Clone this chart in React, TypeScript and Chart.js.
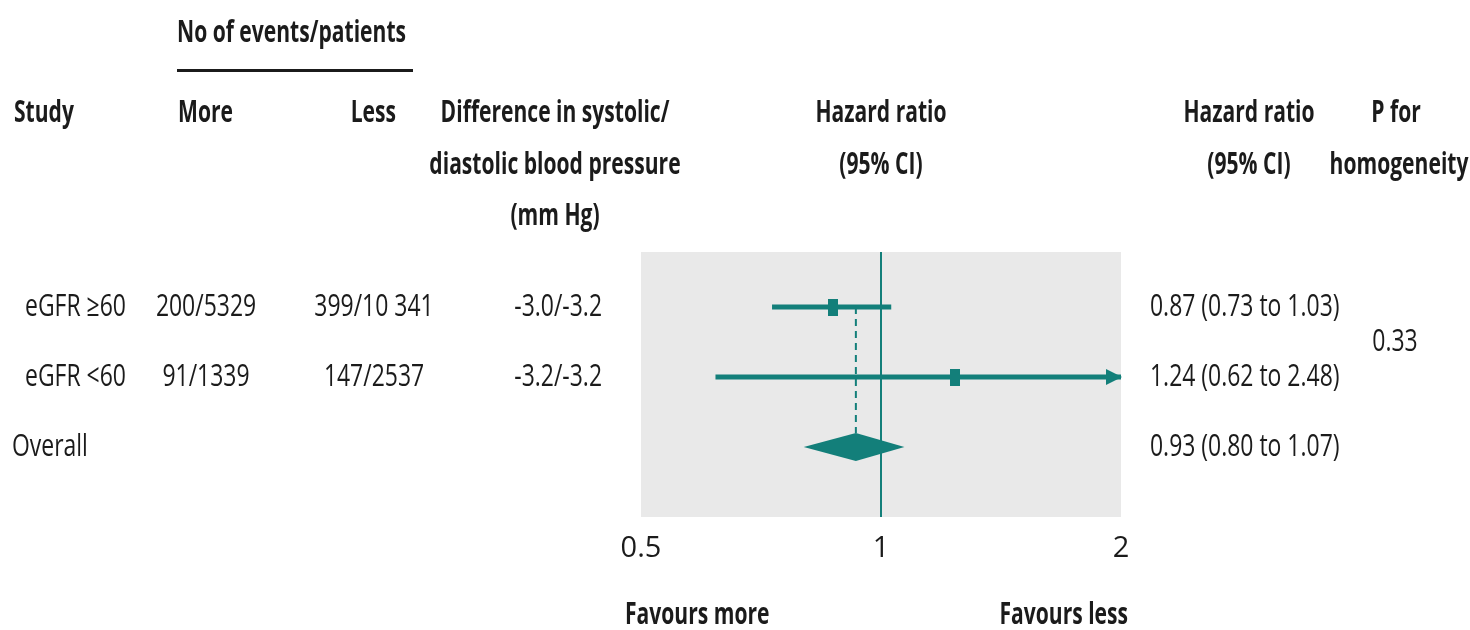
import React, { useEffect, useRef } from "react";
import { Chart, registerables } from "chart.js";

Chart.register(...registerables);

// Subgroups and their counts
const studies = ["eGFR ≥60", "eGFR <60"];
const eventsMore = ["200/5329", "91/1339"];
const eventsLess = ["399/10 341", "147/2537"];
const bpDifference = ["-3.0/-3.2", "-3.2/-3.2"];

// Hazard ratios with 95% confidence limits
const hazardRatio = [0.87, 1.24];
const ciLower = [0.73, 0.62];
const ciUpper = [1.03, 2.48];

// Pooled estimate
const overallLabel = "Overall";
const overallHr = 0.93;
const overallLower = 0.8;
const overallUpper = 1.07;

const pHomogeneity = "0.33";
const xTicks = [0.5, 1, 2];

const TEAL = "#137f7a";
const PANEL = "#e9e9e9";
const INK = "#1b1b1b";
const FONT = "'Open Sans', 'Noto Sans', sans-serif";
const REG_SCALE = 0.74;
const BOLD_SCALE = 0.68;

const fmt = (v: number) => v.toFixed(2);

function drawText(
  ctx: CanvasRenderingContext2D,
  text: string,
  x: number,
  y: number,
  align: "left" | "center" | "right",
  bold: boolean,
  size: number
) {
  const sx = bold ? BOLD_SCALE : REG_SCALE;
  ctx.save();
  ctx.font = `${bold ? "bold " : ""}${size}px ${FONT}`;
  ctx.fillStyle = INK;
  ctx.textAlign = "left";
  ctx.textBaseline = "alphabetic";
  const w = ctx.measureText(text).width * sx;
  const left = align === "left" ? x : align === "center" ? x - w / 2 : x - w;
  ctx.translate(left, y);
  ctx.scale(sx, 1);
  ctx.fillText(text, 0, 0);
  ctx.restore();
}

function markerImage(w: number, h: number) {
  const c = document.createElement("canvas");
  c.width = w;
  c.height = h;
  const g = c.getContext("2d")!;
  g.fillStyle = TEAL;
  g.fillRect(0, 0, w, h);
  return c;
}

const forestPlugin = {
  id: "forest",
  beforeDraw(chart: any) {
    const { ctx, chartArea: a } = chart;
    ctx.save();
    ctx.fillStyle = PANEL;
    ctx.fillRect(a.left, a.top, a.right - a.left, a.bottom - a.top);
    ctx.restore();
  },
  beforeDatasetsDraw(chart: any) {
    const { ctx, chartArea: a } = chart;
    const xs = chart.scales.x;
    const ys = chart.scales.y;
    ctx.save();
    // line of no effect
    ctx.strokeStyle = TEAL;
    ctx.lineWidth = 2;
    const x1 = Math.round(xs.getPixelForValue(1));
    ctx.beginPath();
    ctx.moveTo(x1, a.top);
    ctx.lineTo(x1, a.bottom);
    ctx.stroke();
    // dashed reference at the pooled estimate
    const xo = xs.getPixelForValue(overallHr);
    ctx.setLineDash([7, 5]);
    ctx.lineWidth = 2;
    ctx.beginPath();
    ctx.moveTo(xo, ys.getPixelForValue(1));
    ctx.lineTo(xo, ys.getPixelForValue(3) - 14);
    ctx.stroke();
    ctx.restore();
  },
  afterDatasetsDraw(chart: any) {
    const { ctx } = chart;
    const xs = chart.scales.x;
    const ys = chart.scales.y;
    ctx.save();
    ctx.fillStyle = TEAL;
    // arrowheads for limits beyond the axis
    ciUpper.forEach((u, i) => {
      if (u > xs.max) {
        const tip = xs.getPixelForValue(xs.max);
        const y = ys.getPixelForValue(i + 1);
        ctx.beginPath();
        ctx.moveTo(tip + 1, y);
        ctx.lineTo(tip - 15, y - 8);
        ctx.lineTo(tip - 15, y + 8);
        ctx.closePath();
        ctx.fill();
      }
    });
    // pooled diamond
    const yo = ys.getPixelForValue(3);
    ctx.beginPath();
    ctx.moveTo(xs.getPixelForValue(overallLower), yo);
    ctx.lineTo(xs.getPixelForValue(overallHr), yo - 14);
    ctx.lineTo(xs.getPixelForValue(overallUpper), yo);
    ctx.lineTo(xs.getPixelForValue(overallHr), yo + 14);
    ctx.closePath();
    ctx.fill();
    ctx.restore();
  },
  afterDraw(chart: any) {
    const { ctx } = chart;
    const ys = chart.scales.y;
    const xs = chart.scales.x;
    const H = 31;
    // column headings
    drawText(ctx, "No of events/patients", 177, 42, "left", true, H);
    ctx.save();
    ctx.fillStyle = INK;
    ctx.fillRect(177, 69, 236, 3);
    ctx.restore();
    drawText(ctx, "Study", 14, 122, "left", true, H);
    drawText(ctx, "More", 178, 122, "left", true, H);
    drawText(ctx, "Less", 396, 122, "right", true, H);
    drawText(ctx, "Difference in systolic/", 555, 122, "center", true, H);
    drawText(ctx, "diastolic blood pressure", 555, 174, "center", true, H);
    drawText(ctx, "(mm Hg)", 555, 225, "center", true, H);
    const hrCenter = xs.getPixelForValue(1);
    drawText(ctx, "Hazard ratio", hrCenter, 122, "center", true, H);
    drawText(ctx, "(95% CI)", hrCenter, 174, "center", true, H);
    drawText(ctx, "Hazard ratio", 1249, 122, "center", true, H);
    drawText(ctx, "(95% CI)", 1249, 174, "center", true, H);
    drawText(ctx, "P for", 1396, 122, "center", true, H);
    drawText(ctx, "homogeneity", 1399, 174, "center", true, H);

    // subgroup rows
    studies.forEach((s, i) => {
      const y = ys.getPixelForValue(i + 1) + 9;
      drawText(ctx, s, 25, y, "left", false, H);
      drawText(ctx, eventsMore[i], 206, y, "center", false, H);
      drawText(ctx, eventsLess[i], 374, y, "center", false, H);
      drawText(ctx, bpDifference[i], 602, y, "right", false, H);
      drawText(
        ctx,
        `${fmt(hazardRatio[i])} (${fmt(ciLower[i])} to ${fmt(ciUpper[i])})`,
        1150,
        y,
        "left",
        false,
        H
      );
    });
    const yo = ys.getPixelForValue(3) + 9;
    drawText(ctx, overallLabel, 12, yo, "left", false, H);
    drawText(
      ctx,
      `${fmt(overallHr)} (${fmt(overallLower)} to ${fmt(overallUpper)})`,
      1150,
      yo,
      "left",
      false,
      H
    );
    drawText(ctx, pHomogeneity, 1395, ys.getPixelForValue(1.5) + 9, "center", false, H);

    // direction labels
    drawText(ctx, "Favours more", 625, 624, "left", true, H);
    drawText(ctx, "Favours less", 1128, 624, "right", true, H);
  },
};

export default function App() {
  const ref = useRef<HTMLCanvasElement | null>(null);

  useEffect(() => {
    if (!ref.current) return;
    const ciSets = studies.map((s, i) => ({
      type: "line" as const,
      label: s,
      data: [
        { x: ciLower[i], y: i + 1 },
        { x: ciUpper[i], y: i + 1 },
      ],
      borderColor: TEAL,
      borderWidth: 5,
      pointRadius: 0,
      showLine: true,
      order: 2,
    }));
    const chart = new Chart(ref.current, {
      type: "scatter",
      data: {
        datasets: [
          ...ciSets,
          {
            label: "Hazard ratio",
            data: hazardRatio.map((v, i) => ({ x: v, y: i + 1 })),
            pointStyle: markerImage(10, 17) as any,
            pointRadius: 8,
            order: 1,
          },
        ] as any,
      },
      options: {
        responsive: false,
        animation: false,
        events: [],
        layout: { padding: { left: 641, right: 349, top: 252, bottom: 53 } },
        plugins: {
          legend: { display: false },
          tooltip: { enabled: false },
        },
        scales: {
          x: {
            type: "logarithmic",
            min: 0.5,
            max: 2,
            grid: { display: false },
            border: { display: false },
            afterBuildTicks: (s: any) => {
              s.ticks = xTicks.map((v) => ({ value: v }));
            },
            afterFit: (s: any) => {
              s.height = 60;
            },
            ticks: {
              autoSkip: false,
              maxRotation: 0,
              padding: 6,
              color: INK,
              font: { family: FONT, size: 29 },
              callback: (v: any) => String(v),
            },
          },
          y: {
            type: "linear",
            display: false,
            reverse: true,
            min: 0.214,
            max: 4,
          },
        },
      },
      plugins: [forestPlugin],
    });
    return () => chart.destroy();
  }, []);

  return (
    <div style={{ position: "fixed", left: 0, top: 0, width: 1470, height: 630, background: "#fff" }}>
      <canvas ref={ref} width={1470} height={630} style={{ display: "block" }} />
    </div>
  );
}
